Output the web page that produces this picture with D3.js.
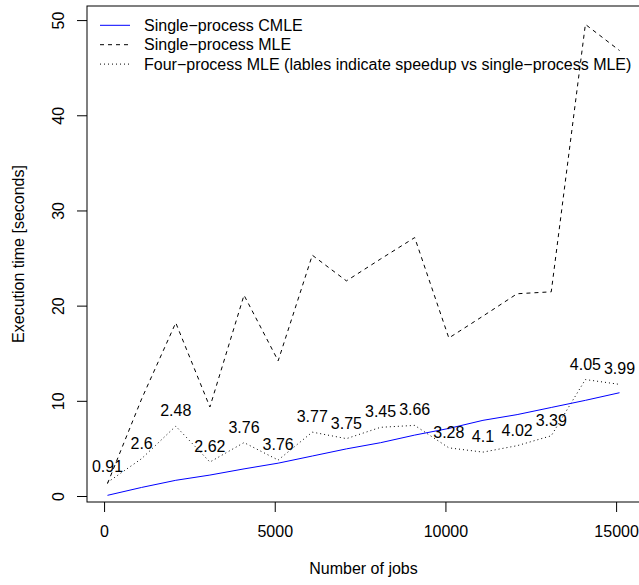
<!DOCTYPE html>
<meta charset="utf-8">
<style>
    body { margin: 0; background: #fff; }
    svg text { font-family: 'Liberation Sans', Arial, sans-serif; fill: #000; }
</style>
<svg width="639" height="585"></svg>
<script src="https://cdn.jsdelivr.net/npm/d3@7"></script>
<script>
    // data
    var jobs = [100, 1100, 2100, 3100, 4100, 5100, 6100, 7100, 8100, 9100, 10100, 11100, 12100, 13100, 14100, 15100];
    var cmle = [0.07, 0.9, 1.65, 2.2, 2.85, 3.45, 4.2, 4.95, 5.6, 6.4, 7.1, 7.95, 8.55, 9.3, 10.05, 10.85];
    var mle = [1.3, 10.2, 18.2, 9.35, 21.1, 14.2, 25.3, 22.6, 24.9, 27.15, 16.6, 18.9, 21.25, 21.45, 49.55, 46.8];
    var speedup = [0.91, 2.6, 2.48, 2.62, 3.76, 3.76, 3.77, 3.75, 3.45, 3.66, 3.28, 4.1, 4.02, 3.39, 4.05, 3.99];
    var xTicks = [0, 5000, 10000, 15000];
    var yTicks = [0, 10, 20, 30, 40, 50];
    var legendLabels = [
        "Single\u2212process CMLE",
        "Single\u2212process MLE",
        "Four\u2212process MLE (lables indicate speedup vs single\u2212process MLE)"
    ];

    var four = mle.map(function (d, i) { return d / speedup[i]; });

    var svg = d3.select("svg"),
        box = { left: 87, right: 640, top: 6, bottom: 502 };

    // R style axis ranges: data extent plus 4% on each side
    function rRange(arr) {
        var e = d3.extent(arr), r = e[1] - e[0];
        return [e[0] - 0.04 * r, e[1] + 0.04 * r];
    }

    var x = d3.scaleLinear().domain(rRange(jobs)).range([box.left, box.right]);
    var y = d3.scaleLinear().domain(rRange(mle)).range([box.bottom, box.top]);

    var fs = 16;

    // axes
    var xAxis = svg.append("g")
        .attr("transform", "translate(0," + box.bottom + ")")
        .call(d3.axisBottom(x).tickValues(xTicks).tickSize(10).tickPadding(14).tickFormat(d3.format("d")));
    xAxis.select(".domain").remove();
    xAxis.selectAll("line").attr("stroke", "#000");
    xAxis.selectAll("text").attr("font-size", fs).attr("font-family", null);

    var yAxis = svg.append("g")
        .attr("transform", "translate(" + box.left + ",0)")
        .call(d3.axisLeft(y).tickValues(yTicks).tickSize(10).tickFormat(d3.format("d")));
    yAxis.select(".domain").remove();
    yAxis.selectAll("line").attr("stroke", "#000");
    yAxis.selectAll("text")
        .attr("font-size", fs)
        .attr("font-family", null)
        .attr("text-anchor", "middle")
        .attr("x", 0).attr("dy", null)
        .attr("transform", "translate(-28.7,0) rotate(-90)")
        .attr("dominant-baseline", "central");

    // plot box
    svg.append("rect")
        .attr("x", box.left).attr("y", box.top)
        .attr("width", box.right - box.left).attr("height", box.bottom - box.top)
        .attr("fill", "none").attr("stroke", "#000").attr("stroke-width", 1);

    var line = d3.line()
        .x(function (d) { return x(d[0]); })
        .y(function (d) { return y(d[1]); });

    function pairs(vals) { return jobs.map(function (j, i) { return [j, vals[i]]; }); }

    svg.append("path").datum(pairs(mle))
        .attr("d", line).attr("fill", "none")
        .attr("stroke", "#000").attr("stroke-dasharray", "4,4");

    svg.append("path").datum(pairs(four))
        .attr("d", line).attr("fill", "none")
        .attr("stroke", "#000").attr("stroke-dasharray", "1,3");

    svg.append("path").datum(pairs(cmle))
        .attr("d", line).attr("fill", "none")
        .attr("stroke", "#0000ff");

    // speedup labels above the four-process points
    svg.append("g").selectAll("text")
        .data(pairs(four))
        .enter().append("text")
        .attr("x", function (d) { return x(d[0]); })
        .attr("y", function (d) { return y(d[1]) - 10; })
        .attr("text-anchor", "middle")
        .attr("font-size", fs)
        .text(function (d, i) { return speedup[i]; });

    // legend
    var dashes = [null, "4,4", "1,3"],
        colors = ["#0000ff", "#000", "#000"];
    var legend = svg.append("g").selectAll("g")
        .data(legendLabels)
        .enter().append("g")
        .attr("transform", function (d, i) { return "translate(100," + (25.3 + i * 19.4) + ")"; });
    legend.append("line")
        .attr("x1", 0).attr("x2", 30)
        .attr("stroke", function (d, i) { return colors[i]; })
        .attr("stroke-dasharray", function (d, i) { return dashes[i]; });
    legend.append("text")
        .attr("x", 44).attr("dy", "0.35em")
        .attr("font-size", fs)
        .text(function (d) { return d; });

    // axis titles
    svg.append("text")
        .attr("x", (box.left + box.right) / 2).attr("y", 568).attr("dy", "0.35em")
        .attr("text-anchor", "middle").attr("font-size", fs)
        .text("Number of jobs");
    svg.append("text")
        .attr("transform", "translate(18," + (box.top + box.bottom) / 2 + ") rotate(-90)")
        .attr("dy", "0.35em")
        .attr("text-anchor", "middle").attr("font-size", fs)
        .text("Execution time [seconds]");
</script>
